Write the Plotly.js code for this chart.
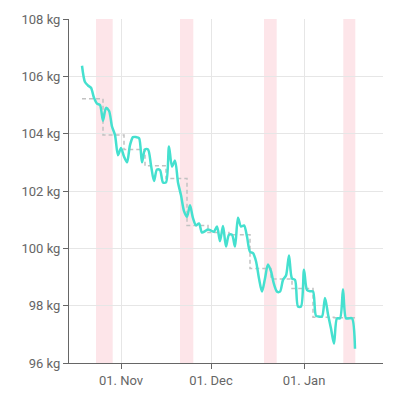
<!DOCTYPE html>
<html>
<head>
<meta charset="utf-8">
<script src="https://cdn.plot.ly/plotly-3.0.1.min.js"></script>
<style>html,body{margin:0;padding:0;background:#fff;}#chart{width:400px;height:400px;}</style>
</head>
<body>
<div id="chart"></div>
<script>
// Daily weights starting 2023-10-19
var startDate = "2023-10-19";
var dailyWeights = [
 106.37,105.8,105.68,105.6,105.25,105.05,105.0,104.45,104.9,104.8,104.25,103.95,103.25,
 103.5,103.2,103.0,103.6,103.88,103.88,103.85,103.0,103.45,103.45,102.9,102.35,102.75,102.73,102.3,
 102.3,103.55,102.85,103.06,102.3,101.85,101.3,101.1,101.5,101.05,100.8,100.87,100.55,100.6,
 100.66,100.62,100.58,100.76,100.25,100.78,100.06,100.47,100.47,100.06,101.07,100.76,100.8,100.41,
 99.88,99.83,99.55,98.95,98.49,98.95,99.44,99.2,98.75,98.49,98.49,98.9,99.05,99.75,
 98.95,98.9,97.97,97.97,99.25,98.55,98.5,98.5,97.65,97.62,97.62,98.27,97.7,97.2,
 96.68,97.56,97.56,98.57,97.56,97.56,97.56,96.5
];
// Weekly averages (week start dates)
var weekStarts = ["2023-10-19","2023-10-26","2023-11-02","2023-11-09","2023-11-16","2023-11-23","2023-11-30","2023-12-07","2023-12-14","2023-12-21","2023-12-28","2024-01-04","2024-01-11","2024-01-18"];
var weeklyAvg = [105.22,103.95,103.45,102.88,102.44,100.8,100.55,100.47,99.3,98.93,98.6,97.6,97.58,97.58];
// Highlighted periods
var bandStarts = ["2023-10-23 16:00","2023-11-20 16:00","2023-12-18 16:00","2024-01-14 02:30"];
var bandEnds   = ["2023-10-29 05:30","2023-11-25 02:30","2023-12-22 21:30","2024-01-18 02:30"];
var tickDates = ["2023-11-01","2023-12-01","2024-01-01"];
var tickLabels = ["01. Nov","01. Dec","01. Jan"];
var yTicks = [96,98,100,102,104,106,108];
var yTickLabels = yTicks.map(function(v){ return v + " kg"; });

function addDays(s, n){
  var d = new Date(s + "T00:00:00Z");
  d.setUTCDate(d.getUTCDate() + n);
  return d.toISOString().slice(0,10);
}
var dailyDates = dailyWeights.map(function(_, i){ return addDays(startDate, i); });

var shapes = bandStarts.map(function(s, i){
  return {type:"rect", xref:"x", yref:"paper", x0:s, x1:bandEnds[i], y0:0, y1:1,
          fillcolor:"rgba(252,220,225,0.75)", line:{width:0}, layer:"below"};
});

var traces = [
  {x: weekStarts, y: weeklyAvg, type:"scatter", mode:"lines",
   line:{shape:"hv", color:"#c2c2c2", width:1.5, dash:"4px,3px"}, hoverinfo:"skip"},
  {x: dailyDates, y: dailyWeights, type:"scatter", mode:"lines",
   line:{shape:"spline", smoothing:0.8, color:"#45e0cf", width:2.5}}
];

var layout = {
  width:400, height:400,
  margin:{l:69, r:17, t:19, b:37},
  paper_bgcolor:"#fff", plot_bgcolor:"#fff",
  showlegend:false,
  font:{family:"Roboto, sans-serif", size:13, color:"#666"},
  shapes: shapes,
  xaxis:{type:"date", range:["2023-10-14 16:00","2024-01-27 08:00"],
         tickmode:"array", tickvals:tickDates, ticktext:tickLabels,
         showgrid:true, gridcolor:"#e6e6e6", gridwidth:1,
         showline:true, linecolor:"#666", linewidth:1,
         ticks:"outside", ticklen:5, tickcolor:"#666",
         zeroline:false, tickfont:{size:13, color:"#666"}},
  yaxis:{range:[96,108], tickmode:"array", tickvals:yTicks, ticktext:yTickLabels,
         showgrid:true, gridcolor:"#e6e6e6", gridwidth:1,
         showline:true, linecolor:"#666", linewidth:1,
         ticks:"outside", ticklen:5, tickcolor:"#666",
         zeroline:false, tickfont:{size:13, color:"#666"}}
};
Plotly.newPlot("chart", traces, layout, {staticPlot:true, displayModeBar:false});
</script>
</body>
</html>
